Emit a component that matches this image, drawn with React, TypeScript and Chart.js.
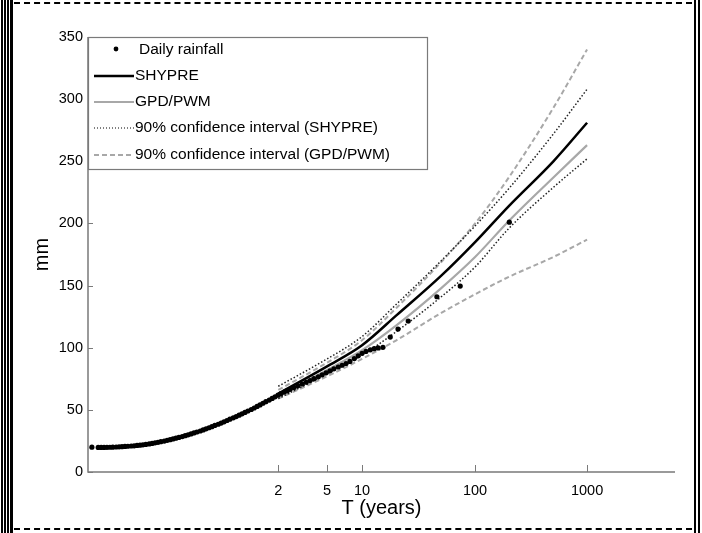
import React, { useEffect, useRef } from "react";
import { Chart, registerables } from "chart.js";

Chart.register(...registerables);

// ---- axis ticks ----
const tickYears = [2, 5, 10, 100, 1000];
const yTickValues = [0, 50, 100, 150, 200, 250, 300, 350];

// ---- fitted curves (return period in years -> rainfall in mm) ----
const returnPeriods = [2, 5, 10, 20, 50, 100, 200, 500, 1000];
const shypre = [63, 85, 102, 126, 158, 185, 214, 250, 281];
const gpdPwm = [61, 82, 98, 118, 148, 173, 202, 237, 263];
const ciShypreUpper = [69, 91, 109, 135, 170, 198, 228, 272, 308];
const ciShypreLower = [59, 79, 94, 113, 141, 165, 196, 229, 252];
const ciGpdUpper = [66, 88, 106, 132, 169, 200, 237, 293, 340];
const ciGpdLower = [59, 77, 91, 106, 128, 143, 157, 173, 187];

// ---- observed daily rainfall (reduced variate, mm) ----
const rainfallU = [
  -2.59, -2.46, -2.4, -2.34, -2.28, -2.22, -2.16, -2.09, -2.03, -1.97, -1.91,
  -1.85, -1.78, -1.72, -1.66, -1.6, -1.54, -1.48, -1.41, -1.35, -1.29, -1.23,
  -1.17, -1.1, -1.04, -0.98, -0.92, -0.86, -0.8, -0.73, -0.67, -0.61, -0.55,
  -0.49, -0.43, -0.36, -0.3, -0.24, -0.18, -0.12, -0.06, 0.01, 0.07, 0.13,
  0.19, 0.25, 0.32, 0.38, 0.44, 0.5, 0.56, 0.62, 0.69, 0.75, 0.81, 0.87, 0.93,
  0.99, 1.06, 1.12, 1.18, 1.24, 1.3, 1.37, 1.43, 1.49, 1.57, 1.65, 1.74, 1.82,
  1.9, 1.98, 2.07, 2.15, 2.23, 2.31, 2.39, 2.48, 2.56, 2.64, 2.72, 2.81, 2.89,
  2.97, 3.05, 3.14, 3.22, 3.3, 3.4, 3.55, 3.71, 3.92, 4.51, 4.99, 6.0,
];
const rainfallMm = [
  20, 19.8, 19.8, 19.8, 19.85, 19.9, 20.0, 20.1, 20.25, 20.4, 20.55, 20.7,
  20.9, 21.1, 21.35, 21.6, 21.9, 22.2, 22.6, 23.0, 23.45, 23.9, 24.4, 24.9,
  25.45, 26.0, 26.6, 27.2, 27.85, 28.5, 29.2, 29.9, 30.65, 31.4, 32.2, 33.0,
  33.85, 34.7, 35.6, 36.5, 37.45, 38.4, 39.4, 40.4, 41.45, 42.5, 43.55, 44.6,
  45.7, 46.8, 47.95, 49.1, 50.3, 51.5, 52.75, 54.0, 55.3, 56.6, 57.9, 59.2,
  60.5, 61.8, 63.05, 64.3, 65.4, 66.5, 67.9, 69.3, 70.8, 72.2, 73.6, 75.1,
  76.6, 78.2, 79.8, 81.4, 83.0, 84.5, 85.9, 87.3, 89.0, 91.3, 93.5, 95.5, 97.0,
  98.3, 99.2, 99.8, 100.3, 108.6, 115, 121.5, 141, 149.6, 201,
];

const legendLabels = [
  "Daily rainfall",
  "SHYPRE",
  "GPD/PWM",
  "90% confidence interval (SHYPRE)",
  "90% confidence interval (GPD/PWM)",
];

// Reduced variate used on the horizontal axis
const reducedVariate = (T: number) => -Math.log(-Math.log(1 - 1 / (2 * T)));

const FONT = "'Liberation Sans', Arial, Helvetica, sans-serif";
const GRAY = "#a8a8a8";
const AXIS = "#7a7a7a";

const curve = (vals: number[]) =>
  returnPeriods.map((T, i) => ({ x: reducedVariate(T), y: vals[i] }));

const decorPlugin = {
  id: "decor",
  afterDraw(chart: any) {
    const { ctx, chartArea, scales } = chart;
    const { left, right, top, bottom } = chartArea;
    ctx.save();
    // axes lines
    ctx.strokeStyle = AXIS;
    ctx.lineWidth = 1.5;
    ctx.beginPath();
    ctx.moveTo(left, top);
    ctx.lineTo(left, bottom);
    ctx.lineTo(right, bottom);
    ctx.stroke();
    // inner tick marks
    ctx.lineWidth = 1;
    ctx.beginPath();
    yTickValues.forEach((v) => {
      const y = Math.round(scales.y.getPixelForValue(v)) + 0.5;
      ctx.moveTo(left, y);
      ctx.lineTo(left + 5, y);
    });
    tickYears.forEach((T) => {
      const x = Math.round(scales.x.getPixelForValue(reducedVariate(T))) + 0.5;
      ctx.moveTo(x, bottom);
      ctx.lineTo(x, bottom - 7);
    });
    ctx.stroke();

    // legend box
    const lx = left, ly = top, lw = 339, lh = 132;
    ctx.fillStyle = "#fff";
    ctx.fillRect(lx, ly, lw, lh);
    ctx.strokeStyle = AXIS;
    ctx.lineWidth = 1.2;
    ctx.strokeRect(lx + 0.5, ly + 0.5, lw, lh);
    const rows = [13, 39, 65, 91, 118];
    ctx.font = `15.5px ${FONT}`;
    ctx.textBaseline = "middle";
    ctx.textAlign = "left";
    rows.forEach((dy, i) => {
      const y = ly + dy;
      ctx.save();
      if (i === 0) {
        ctx.fillStyle = "#000";
        ctx.beginPath();
        ctx.arc(lx + 28, y - 1, 2.4, 0, Math.PI * 2);
        ctx.fill();
      } else {
        ctx.beginPath();
        ctx.moveTo(lx + 6, y);
        ctx.lineTo(lx + 46, y);
        if (i === 1) { ctx.strokeStyle = "#000"; ctx.lineWidth = 2.5; }
        if (i === 2) { ctx.strokeStyle = GRAY; ctx.lineWidth = 2.2; }
        if (i === 3) { ctx.strokeStyle = "#000"; ctx.lineWidth = 1; ctx.setLineDash([1, 2]); }
        if (i === 4) { ctx.strokeStyle = GRAY; ctx.lineWidth = 2; ctx.setLineDash([5, 3]); }
        ctx.stroke();
      }
      ctx.restore();
      ctx.fillStyle = "#000";
      ctx.fillText(legendLabels[i], lx + (i === 0 ? 51 : 47), y);
    });

    // axis titles
    ctx.fillStyle = "#000";
    ctx.font = `20px ${FONT}`;
    ctx.textAlign = "center";
    ctx.textBaseline = "middle";
    ctx.fillText("T (years)", (left + right) / 2, 508);
    ctx.save();
    ctx.translate(42, (top + bottom) / 2);
    ctx.rotate(-Math.PI / 2);
    ctx.fillText("mm", 0, 0);
    ctx.restore();
    ctx.restore();
  },
};

const lineDefaults = {
  showLine: true,
  pointRadius: 0,
  cubicInterpolationMode: "monotone" as const,
};

export default function App() {
  const canvasRef = useRef<HTMLCanvasElement | null>(null);

  useEffect(() => {
    document.body.style.margin = "0";
    const canvas = canvasRef.current;
    if (!canvas) return;
    const chart = new Chart(canvas, {
      type: "scatter",
      data: {
        datasets: [
          {
            label: legendLabels[0],
            data: rainfallU.map((u, i) => ({ x: u, y: rainfallMm[i] })),
            showLine: false,
            pointRadius: 2.6,
            pointBackgroundColor: "#000",
            pointBorderWidth: 0,
          },
          { ...lineDefaults, label: legendLabels[1], data: curve(shypre), borderColor: "#000", borderWidth: 2.5 },
          { ...lineDefaults, label: legendLabels[2], data: curve(gpdPwm), borderColor: GRAY, borderWidth: 2.2 },
          { ...lineDefaults, label: legendLabels[3], data: curve(ciShypreUpper), borderColor: "#222", borderWidth: 1.5, borderDash: [1.5, 2] },
          { ...lineDefaults, label: legendLabels[3] + " lower", data: curve(ciShypreLower), borderColor: "#222", borderWidth: 1.5, borderDash: [1.5, 2] },
          { ...lineDefaults, label: legendLabels[4], data: curve(ciGpdUpper), borderColor: GRAY, borderWidth: 2, borderDash: [5, 3] },
          { ...lineDefaults, label: legendLabels[4] + " lower", data: curve(ciGpdLower), borderColor: GRAY, borderWidth: 2, borderDash: [5, 3] },
        ],
      },
      options: {
        responsive: false,
        animation: false,
        devicePixelRatio: 1,
        layout: { padding: { top: 37, right: 27, left: 0, bottom: 0 } },
        plugins: { legend: { display: false }, tooltip: { enabled: false } },
        scales: {
          x: {
            type: "linear",
            min: -2.67,
            max: 9.41,
            afterFit: (s: any) => { s.height = 61; },
            afterBuildTicks: (s: any) => {
              s.ticks = tickYears.map((T) => ({ value: reducedVariate(T) }));
            },
            grid: { display: false, drawTicks: false },
            border: { display: false },
            ticks: {
              autoSkip: false,
              maxRotation: 0,
              padding: 10,
              color: "#000",
              font: { family: FONT, size: 14.5 },
              callback: (_v: any, i: number) => String(tickYears[i]),
            },
          },
          y: {
            type: "linear",
            min: 0,
            max: 350,
            afterFit: (s: any) => { s.width = 88; },
            grid: { display: false, drawTicks: false },
            border: { display: false },
            ticks: {
              stepSize: 50,
              padding: 5,
              color: "#000",
              font: { family: FONT, size: 14.5 },
            },
          },
        },
      },
      plugins: [decorPlugin],
    });
    return () => chart.destroy();
  }, []);

  const bar = (l: number, w: number) => (
    <div style={{ position: "absolute", left: l, top: 0, width: w, height: 533, background: "#000" }} />
  );

  return (
    <div style={{ position: "fixed", left: 0, top: 0, width: 702, height: 533, background: "#fff", overflow: "hidden" }}>
      <canvas ref={canvasRef} width={702} height={533} style={{ position: "absolute", left: 0, top: 0 }} />
      {bar(1, 2)}
      {bar(4, 2)}
      {bar(7, 2)}
      {bar(10, 3)}
      {bar(694, 2)}
      {bar(698, 2)}
      <div style={{ position: "absolute", left: 14, top: 2, width: 678, height: 0, borderTop: "2px dashed #000" }} />
      <div style={{ position: "absolute", left: 14, top: 528, width: 678, height: 0, borderTop: "2px dashed #000" }} />
    </div>
  );
}
